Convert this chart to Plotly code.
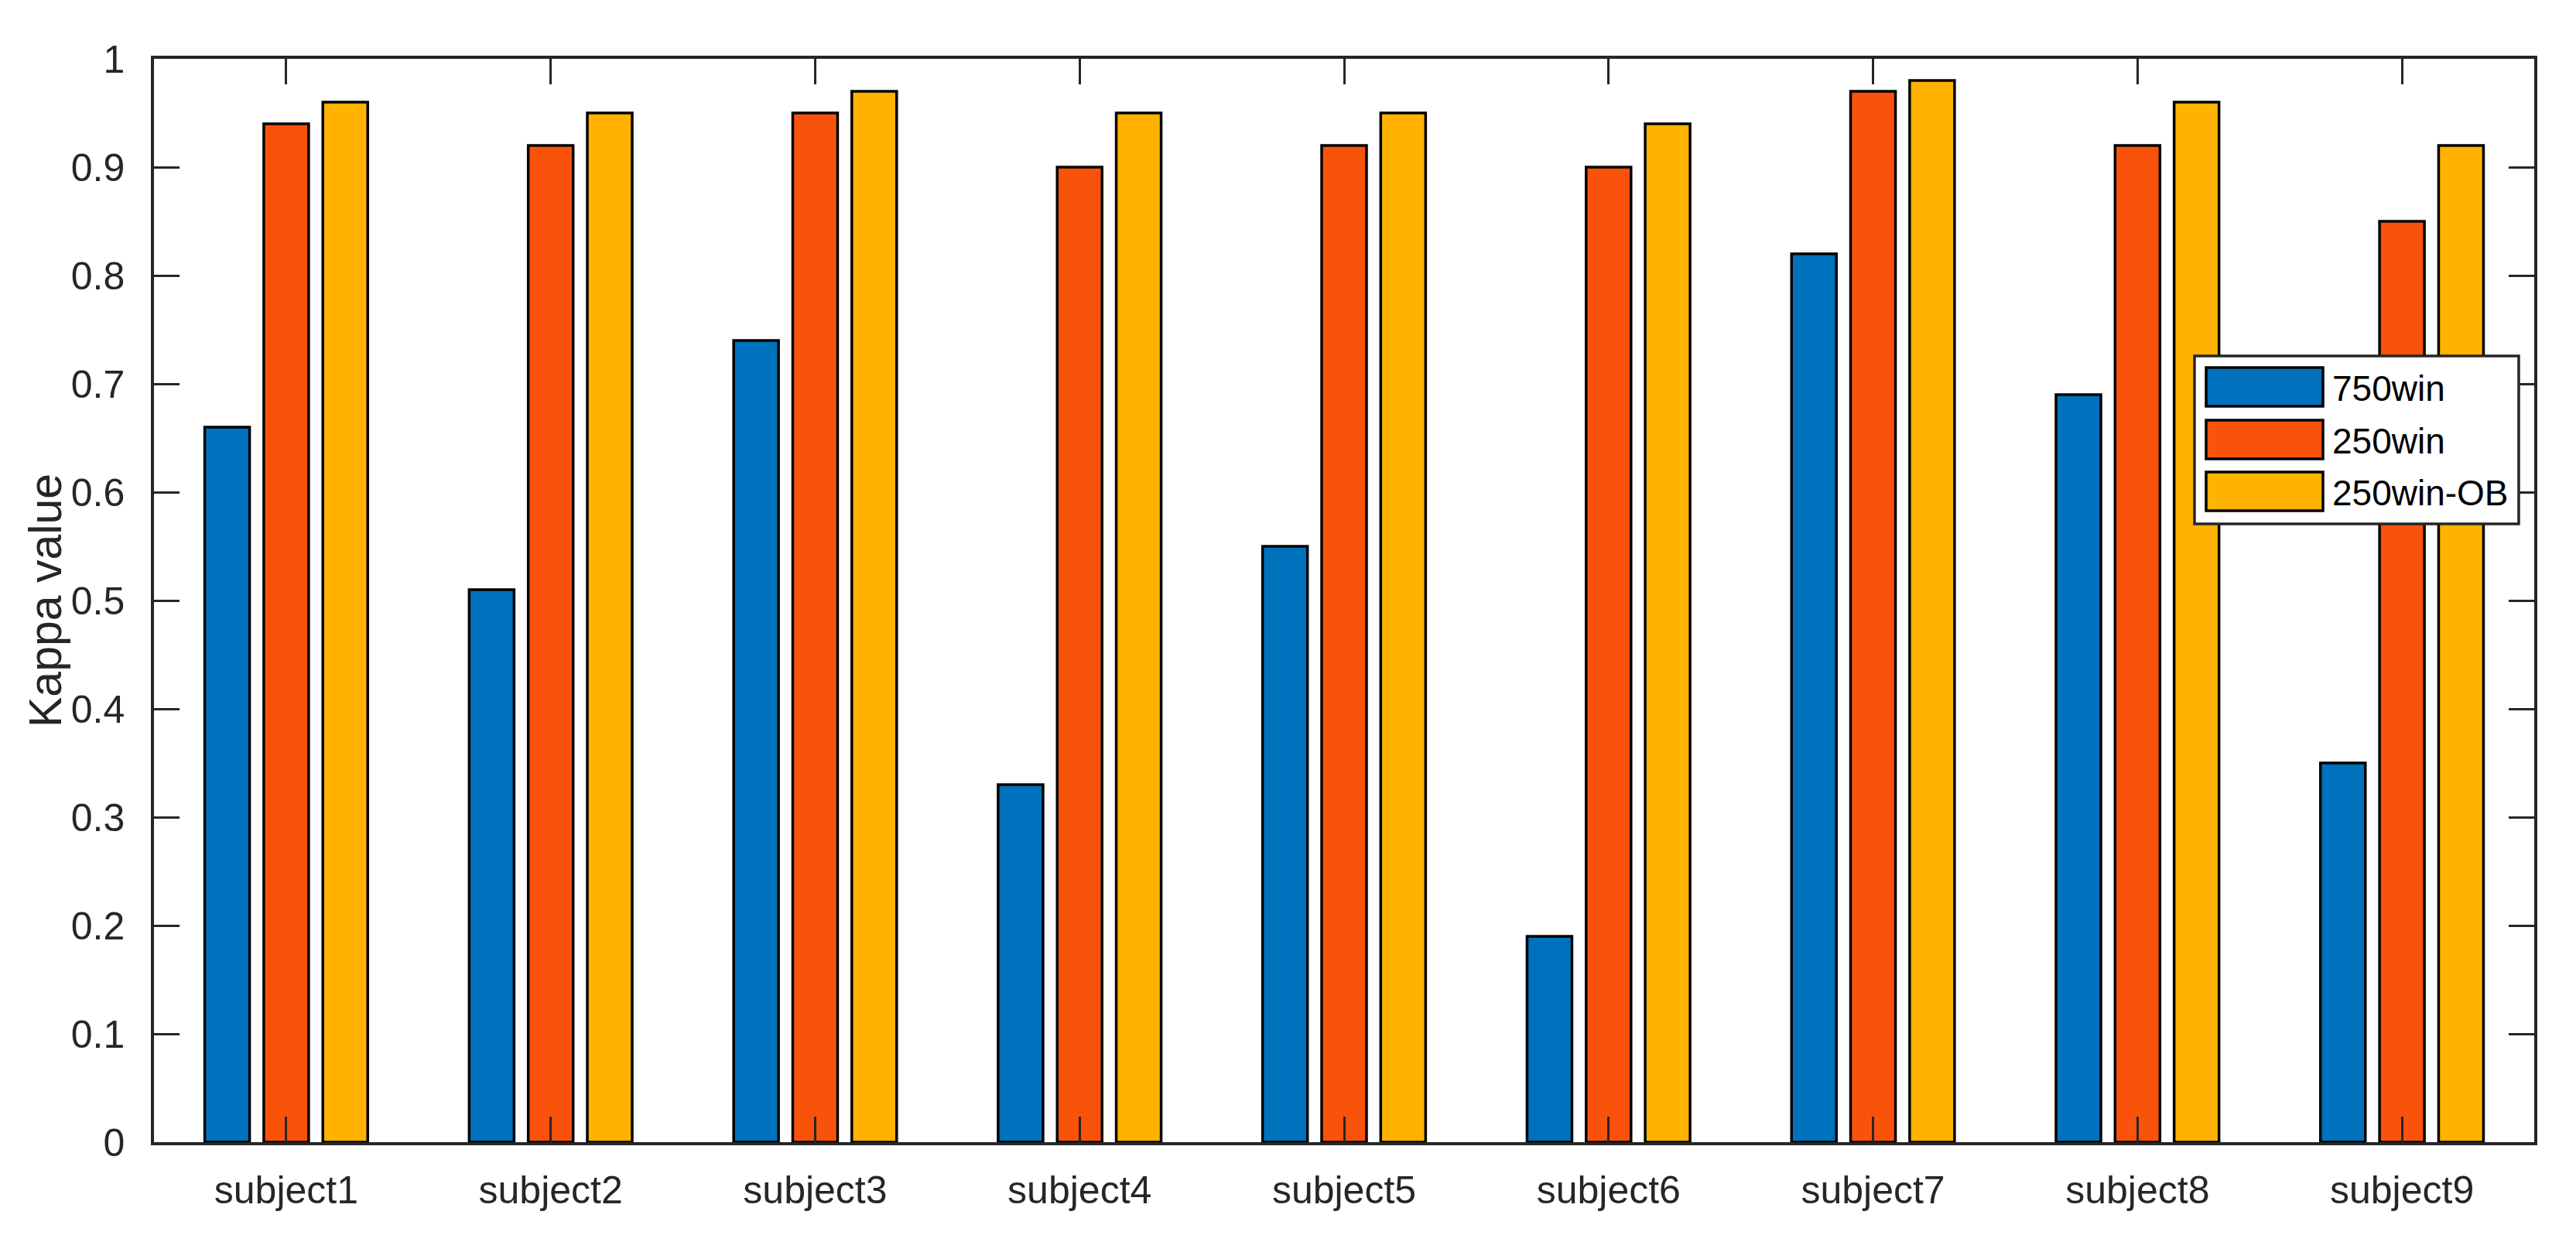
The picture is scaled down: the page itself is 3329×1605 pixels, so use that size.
import plotly.graph_objects as go

categories = ["subject1", "subject2", "subject3", "subject4", "subject5",
              "subject6", "subject7", "subject8", "subject9"]
series_names = ["750win", "250win", "250win-OB"]
win750 = [0.66, 0.51, 0.74, 0.33, 0.55, 0.19, 0.82, 0.69, 0.35]
win250 = [0.94, 0.92, 0.95, 0.90, 0.92, 0.90, 0.97, 0.92, 0.85]
win250_ob = [0.96, 0.95, 0.97, 0.95, 0.95, 0.94, 0.98, 0.96, 0.92]
series_values = [win750, win250, win250_ob]
colors = ["#0072BD", "#F9530B", "#FFB200"]
y_ticks = [0, 0.1, 0.2, 0.3, 0.4, 0.5, 0.6, 0.7, 0.8, 0.9, 1]
y_tick_labels = ["0", "0.1", "0.2", "0.3", "0.4", "0.5", "0.6", "0.7", "0.8", "0.9", "1"]
y_title = "Kappa value"

# page body has an 8px default margin; compensate so the figure sits where the reference does
OFF = 8
W, H = 3329 - 2 * OFF, 1605 - 2 * OFF
L, R, T, B = 199 - OFF, 54 - OFF, 76 - OFF, 129 - OFF
AX = "#262626"
FONT = "Liberation Sans, Arial, sans-serif"

fig = go.Figure()
for name, vals, col in zip(series_names, series_values, colors):
    fig.add_trace(go.Bar(
        x=categories, y=vals, name=name,
        marker=dict(color=col, line=dict(color="black", width=3.5)),
        showlegend=False,
    ))

# custom legend (layout only), positions given in reference-image pixels
pw, ph = W - L - R, H - T - B
def px(x):
    return (x - OFF - L) / pw
def py(y):
    return (H - B - (y - OFF)) / ph

shapes = [dict(type="rect", xref="paper", yref="paper",
               x0=px(2836), x1=px(3255), y0=py(677), y1=py(460),
               line=dict(color=AX, width=3.5), fillcolor="white", layer="above")]
annotations = []
row_tops = [475, 543, 610]
for i, (name, col) in enumerate(zip(series_names, colors)):
    t = row_tops[i]
    shapes.append(dict(type="rect", xref="paper", yref="paper",
                       x0=px(2851), x1=px(3002), y0=py(t + 50), y1=py(t),
                       line=dict(color="black", width=3.5), fillcolor=col, layer="above"))
    annotations.append(dict(xref="paper", yref="paper", x=px(3012), y=py(t + 27),
                            text=name, showarrow=False, xanchor="left", yanchor="middle",
                            font=dict(family=FONT, size=46, color="black")))

# y-axis title
annotations.append(dict(xref="paper", yref="paper", x=px(59), y=0.5, text=y_title,
                        textangle=-90, showarrow=False, xanchor="center", yanchor="middle",
                        font=dict(family=FONT, size=59, color=AX)))

fig.update_layout(
    width=W, height=H,
    margin=dict(l=L, r=R, t=T, b=B, pad=0),
    paper_bgcolor="white", plot_bgcolor="white",
    barmode="group", bargap=0.33, bargroupgap=0.24,
    font=dict(family=FONT, size=50, color=AX),
    shapes=shapes, annotations=annotations,
    showlegend=False,
)
fig.update_xaxes(
    range=[-0.5, 8.5], showline=True, linecolor=AX, linewidth=3.5, mirror="ticks",
    ticks="inside", ticklen=33, tickwidth=3, tickcolor=AX, showgrid=False,
    tickfont=dict(family=FONT, size=50, color=AX), ticklabelstandoff=15,
)
fig.update_yaxes(
    range=[0, 1], tickvals=y_ticks, ticktext=y_tick_labels,
    showline=True, linecolor=AX, linewidth=3.5, mirror="ticks",
    ticks="inside", ticklen=33, tickwidth=3, tickcolor=AX, showgrid=False,
    zeroline=False, tickfont=dict(family=FONT, size=50, color=AX), ticklabelstandoff=24,
)
fig.write_html("out.html")
